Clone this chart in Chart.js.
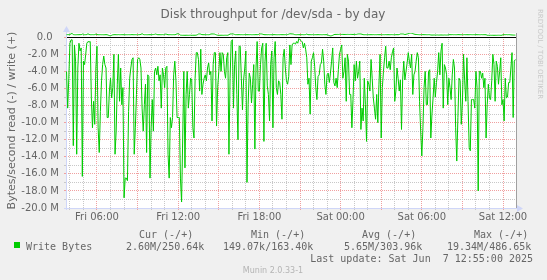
<!DOCTYPE html>
<html><head><meta charset="utf-8">
<script src="https://cdn.jsdelivr.net/npm/chart.js@4"></script>
<style>html,body{margin:0;padding:0;background:#F0F0F0;overflow:hidden}canvas{display:block}</style>
</head><body>
<canvas id="c" width="547" height="280"></canvas>
<script>
const chartTitle = 'Disk throughput for /dev/sda - by day';
const yAxisTitle = 'Bytes/second read (-) / write (+)';
const startHour = 3.75;      // Fri 03:45, hours from Fri 00:00
const stepMinutes = 5;
const dayNames = ['Fri', 'Sat'];
const xGridHours = [4,5,6,7,8,9,10,11,12,13,14,15,16,17,18,19,20,21,22,23,24,25,26,27,28,29,30,31,32,33,34,35,36];
const yGridMB = [-20,-19,-18,-17,-16,-15,-14,-13,-12,-11,-10,-9,-8,-7,-6,-5,-4,-3,-2,-1,0];

// read throughput (shown negative), MB/s
const readMB = [
 4.0,8.3,4.8,0.7,0.3,0.3,12.7,0.9,2.8,13.7,
 3.6,0.7,1.6,1.25,16.3,2.8,3.2,2.0,0.7,0.5,
 0.55,0.5,7.1,10.6,7.5,10.2,3.6,1.05,10.6,13.5,
 8.7,5.1,3.2,2.2,3.2,3.6,9.4,9.4,6.3,4.8,
 7.1,5.9,2.0,13.7,11.0,5.5,2.0,7.5,3.6,7.9,
 5.9,18.8,16.5,16.5,16.8,8.7,4.8,3.6,2.6,2.4,
 13.7,10.6,6.7,2.6,2.4,2.6,3.6,8.3,11.0,7.9,
 5.5,13.5,4.4,4.6,16.5,10.6,7.3,11.0,4.0,3.6,
 4.4,3.4,5.1,4.4,8.3,3.6,4.4,5.9,3.6,3.4,
 13.7,16.5,9.4,10.6,9.4,4.4,2.8,5.1,9.4,9.4,
 9.4,16.5,19.3,11.8,4.0,15.3,6.7,4.0,8.3,6.7,
 4.8,5.0,10.6,11.8,4.8,1.8,1.8,2.6,6.3,1.4,
 6.7,5.5,4.8,4.4,5.1,3.6,3.0,4.4,4.0,9.8,
 3.2,1.8,1.8,10.4,5.9,4.0,1.8,4.0,1.8,2.0,
 4.0,4.8,2.4,1.8,13.7,4.8,0.5,0.3,8.3,3.2,
 1.6,6.7,12.0,1.05,1.05,4.8,8.5,5.0,3.6,1.6,
 17.0,7.9,4.2,4.8,7.7,5.5,3.2,13.1,3.6,0.5,
 6.3,6.3,3.2,1.25,0.7,12.2,2.8,0.7,5.7,6.7,
 9.8,3.2,1.6,10.6,2.4,0.5,5.9,6.7,5.1,5.3,
 6.7,9.6,2.4,1.4,3.6,5.1,5.5,4.6,0.9,3.2,
 0.9,0.7,0.7,0.8,0.5,0.7,0.15,0.3,0.4,0.55,
 1.25,0.7,1.4,2.4,5.5,4.8,9.0,2.8,2.4,1.8,
 3.4,5.9,7.3,4.6,4.4,3.2,3.0,1.4,2.8,5.5,
 6.7,4.4,4.2,5.3,4.2,2.8,1.25,5.3,5.7,4.8,
 5.9,3.8,2.0,1.4,0.9,4.8,4.0,2.4,7.5,2.0,
 2.8,6.7,6.7,10.6,7.3,3.2,5.1,2.8,4.8,4.0,
 2.8,10.8,8.3,9.8,4.8,7.9,12.2,5.1,5.5,6.3,
 2.6,4.8,7.1,8.3,9.6,6.7,10.0,5.5,2.0,11.8,
 5.9,4.0,2.4,1.05,3.6,3.6,2.8,3.8,2.4,1.7,
 1.25,7.5,6.3,3.6,4.8,6.3,5.0,10.8,5.0,2.8,
 5.0,4.0,3.0,1.8,2.8,3.6,2.0,6.7,4.4,4.0,
 2.8,1.8,2.4,7.5,11.0,13.9,10.6,5.9,4.0,7.9,
 7.9,4.0,3.8,11.8,9.0,7.1,4.8,7.0,5.3,4.0,
 1.8,4.4,1.6,0.7,8.3,3.2,3.6,4.4,7.9,4.8,
 5.9,7.3,4.4,2.6,3.6,10.6,14.5,9.4,4.8,5.1,
 10.2,7.7,2.0,5.1,7.5,2.4,7.5,12.9,13.3,7.3,
 7.3,7.3,8.3,4.0,5.9,18.0,4.0,4.0,4.8,4.2,
 5.9,4.8,11.8,7.9,5.5,7.1,7.3,5.1,2.0,3.2,
 7.5,2.8,3.4,5.5,4.0,2.4,7.9,7.3,9.8,4.8,
 7.1,7.0,5.3,5.3,3.6,1.8,9.4,2.8,2.6
];

// write throughput (shown positive), kB/s
const writeKB = [
 300,310,305,300,420,430,320,300,295,300,305,300,310,300,380,310,300,305,320,410,
 330,300,300,305,300,310,370,320,300,300,305,300,300,295,300,305,300,250,200,170,
 230,290,300,305,300,300,310,300,300,305,300,300,295,300,300,305,300,300,310,300,
 300,305,300,300,305,310,340,420,330,300,305,300,300,305,300,300,310,320,340,380,
 330,300,305,300,300,310,300,320,380,340,300,300,305,300,300,305,300,330,410,400,
 350,250,235,230,235,230,240,235,230,235,240,230,235,240,235,250,300,380,390,370,
 310,305,300,310,300,305,300,320,380,390,385,380,330,280,240,235,230,240,235,230,
 235,240,235,240,300,380,390,385,380,330,300,305,300,310,300,305,300,300,310,305,
 300,305,300,310,300,300,305,300,310,300,320,380,390,385,350,310,300,305,300,310,
 300,305,300,300,310,305,300,300,305,300,310,300,305,300,310,300,320,360,410,400,
 390,380,320,305,300,310,305,300,300,310,300,305,320,380,310,300,305,300,310,305,
 300,305,300,310,300,305,300,300,310,300,305,300,250,200,163,180,230,300,340,330,
 340,330,345,330,335,340,330,335,330,340,335,330,340,335,330,340,330,335,370,390,
 390,385,350,310,300,305,300,310,300,300,305,300,310,300,305,300,310,300,305,300,
 300,305,300,310,300,305,300,300,310,305,300,305,300,310,300,320,380,390,385,370,
 320,350,380,420,460,487,470,420,380,340,330,320,310,300,305,300,310,300,305,300,
 300,305,300,270,260,265,270,260,265,270,260,265,270,265,260,270,265,260,270,300,
 305,300,310,300,305,300,300,310,305,300,300,305,300,310,300,305,300,300,310,305,
 300,305,300,310,300,305,300,300,310,300,305,300,300,240,235,230,235,230,235,230,
 235,230,235,240,235,230,240,300,305,300,310,300,305,300,280,270,260,255,251
];

const legendHeaders = ['Cur (-/+)', 'Min (-/+)', 'Avg (-/+)', 'Max (-/+)'];
const legendSeries = 'Write Bytes';
const legendValues = ['2.60M/250.64k', '149.07k/163.40k', '5.65M/303.96k', '19.34M/486.65k'];
const lastUpdate = 'Last update: Sat Jun  7 12:55:00 2025';
const versionText = 'Munin 2.0.33-1';
const watermark = 'RRDTOOL / TOBI OETIKER';

const GREEN = '#00CC00';
const MAJOR = 'rgb(240,160,160)';
const MINOR = 'rgb(200,200,200)';
const AXIS = '#CFD6F8';
const FONT_COL = '#666666';

const toPoints = (arr, f) => arr.map((v, i) => ({x: startHour + i * stepMinutes / 60, y: f(v)}));

const decor = {
  id: 'decor',
  beforeDraw(chart) {
    const {ctx, chartArea: a} = chart;
    ctx.save();
    ctx.fillStyle = '#F0F0F0';
    ctx.fillRect(0, 0, chart.width, chart.height);
    ctx.fillStyle = '#FFFFFF';
    ctx.fillRect(a.left, a.top, a.right - a.left, a.bottom - a.top);
    ctx.restore();
  },
  beforeDatasetsDraw(chart) {
    const {ctx, chartArea: a, scales: {x, y}} = chart;
    ctx.save();
    ctx.lineWidth = 1;
    // vertical grid (hours): major every 3 h
    xGridHours.forEach(h => {
      const px = Math.round(x.getPixelForValue(h) - 0.5) + 0.5;
      ctx.strokeStyle = h % 3 === 0 ? MAJOR : MINOR;
      ctx.setLineDash([1, 1]);
      ctx.beginPath(); ctx.moveTo(px, a.top); ctx.lineTo(px, a.bottom); ctx.stroke();
      ctx.setLineDash([]);
      ctx.beginPath(); ctx.moveTo(px, a.bottom); ctx.lineTo(px, a.bottom + 2); ctx.stroke();
    });
    // horizontal grid (MB): major every 2 M
    yGridMB.forEach(m => {
      const py = Math.round(y.getPixelForValue(m * 1e6) - 0.5) + 0.5;
      ctx.strokeStyle = m % 2 === 0 ? MAJOR : MINOR;
      ctx.setLineDash([1, 1]);
      ctx.beginPath(); ctx.moveTo(a.left, py); ctx.lineTo(a.right, py); ctx.stroke();
      ctx.setLineDash([]);
      ctx.beginPath(); ctx.moveTo(a.left - 2, py); ctx.lineTo(a.left, py); ctx.stroke();
    });
    // zero line
    const y0 = Math.round(y.getPixelForValue(0) - 0.5) + 0.5;
    ctx.strokeStyle = '#000000';
    ctx.beginPath(); ctx.moveTo(a.left, y0); ctx.lineTo(a.right, y0); ctx.stroke();
    // axes
    ctx.strokeStyle = AXIS;
    const by = Math.round(a.bottom - 0.5) + 0.5;
    const lx = Math.round(a.left) + 0.5;
    ctx.beginPath(); ctx.moveTo(a.left - 2, by); ctx.lineTo(a.right + 3, by); ctx.stroke();
    ctx.beginPath(); ctx.moveTo(lx, a.bottom + 2); ctx.lineTo(lx, a.top - 3); ctx.stroke();
    ctx.fillStyle = AXIS;
    ctx.beginPath();
    ctx.moveTo(a.right + 1, by - 3.5); ctx.lineTo(a.right + 7, by); ctx.lineTo(a.right + 1, by + 3.5);
    ctx.closePath(); ctx.fill();
    ctx.beginPath();
    ctx.moveTo(lx - 3.5, a.top - 1); ctx.lineTo(lx, a.top - 7); ctx.lineTo(lx + 3.5, a.top - 1);
    ctx.closePath(); ctx.fill();
    ctx.restore();
  },
  afterDraw(chart) {
    const {ctx, chartArea: a} = chart;
    ctx.save();
    ctx.strokeStyle = '#A0A0A0';
    ctx.lineWidth = 1;
    ctx.beginPath();
    ctx.moveTo(a.right + 0.5, a.top);
    ctx.lineTo(a.right + 0.5, a.bottom);
    ctx.stroke();

    ctx.fillStyle = FONT_COL;
    ctx.font = '12px "DejaVu Sans"';
    ctx.textAlign = 'center';
    ctx.textBaseline = 'alphabetic';
    ctx.fillText(chartTitle, 273, 18);

    ctx.font = '10px "DejaVu Sans Mono"';
    ctx.textAlign = 'left';
    const hx = [139, 251, 362, 474];
    legendHeaders.forEach((t, i) => ctx.fillText(t, hx[i], 237.5));
    ctx.fillStyle = GREEN;
    ctx.fillRect(14, 242, 6, 6);
    ctx.fillStyle = FONT_COL;
    ctx.fillText(legendSeries, 26, 249.5);
    const vx = [126, 223, 344, 447];
    legendValues.forEach((t, i) => ctx.fillText(t, vx[i], 249.5));
    ctx.textAlign = 'right';
    ctx.fillText(lastUpdate, 533, 261.5);

    ctx.fillStyle = '#B4B4B4';
    ctx.font = '8px "DejaVu Sans"';
    ctx.textAlign = 'center';
    ctx.fillText(versionText, 273, 272.5);

    ctx.fillStyle = '#C8C8C8';
    ctx.font = '7px "DejaVu Sans"';
    ctx.translate(539.5, 9);
    ctx.rotate(Math.PI / 2);
    ctx.textAlign = 'left';
    ctx.textBaseline = 'middle';
    ctx.fillText(watermark, 0, 0);
    ctx.restore();
  }
};

new Chart(document.getElementById('c'), {
  type: 'line',
  data: {
    datasets: [
      {label: 'read', data: toPoints(readMB, v => -v * 1e6), borderColor: GREEN, borderWidth: 1, pointRadius: 0, tension: 0, fill: false},
      {label: 'write', data: toPoints(writeKB, v => v * 1e3), borderColor: GREEN, borderWidth: 1, pointRadius: 0, tension: 0, fill: false}
    ]
  },
  options: {
    responsive: false,
    animation: false,
    devicePixelRatio: 1,
    layout: {padding: {left: 0, top: 33, right: 31, bottom: 0}},
    plugins: {legend: {display: false}, tooltip: {enabled: false}, title: {display: false}},
    scales: {
      x: {
        type: 'linear', min: 3.71, max: 36.96,
        afterFit(s) { s.height = 72; },
        afterBuildTicks(s) { s.ticks = xGridHours.map(h => ({value: h})); },
        ticks: {
          autoSkip: false, maxRotation: 0, minRotation: 0,
          padding: 1, color: FONT_COL, font: {family: 'DejaVu Sans', size: 10},
          callback(v) {
            const h = Math.round(v);
            if (h % 6 !== 0) return '';
            return dayNames[Math.floor(h / 24)] + ' ' + String(h % 24).padStart(2, '0') + ':00';
          }
        },
        grid: {color: 'rgba(0,0,0,0)', tickColor: 'rgba(0,0,0,0)', drawTicks: true, tickLength: 2},
        border: {display: false}
      },
      y: {
        type: 'linear', min: -20e6, max: 0.5e6,
        afterFit(s) { s.width = 66; },
        afterBuildTicks(s) { s.ticks = yGridMB.map(m => ({value: m * 1e6})); },
        ticks: {
          autoSkip: false,
          padding: 5, color: FONT_COL, font: {family: 'DejaVu Sans', size: 10},
          callback(v) {
            const m = Math.round(v / 1e6);
            if (m % 2 !== 0) return '';
            return m === 0 ? '0.0  ' : m.toFixed(1) + ' M';
          }
        },
        grid: {color: 'rgba(0,0,0,0)', tickColor: 'rgba(0,0,0,0)', drawTicks: true, tickLength: 2},
        border: {display: false},
        title: {display: true, text: yAxisTitle, color: FONT_COL, font: {family: 'DejaVu Sans', size: 11, lineHeight: 1.2}, padding: {top: 5.4, bottom: 0}}
      }
    }
  },
  plugins: [decor]
});
</script>
</body></html>
